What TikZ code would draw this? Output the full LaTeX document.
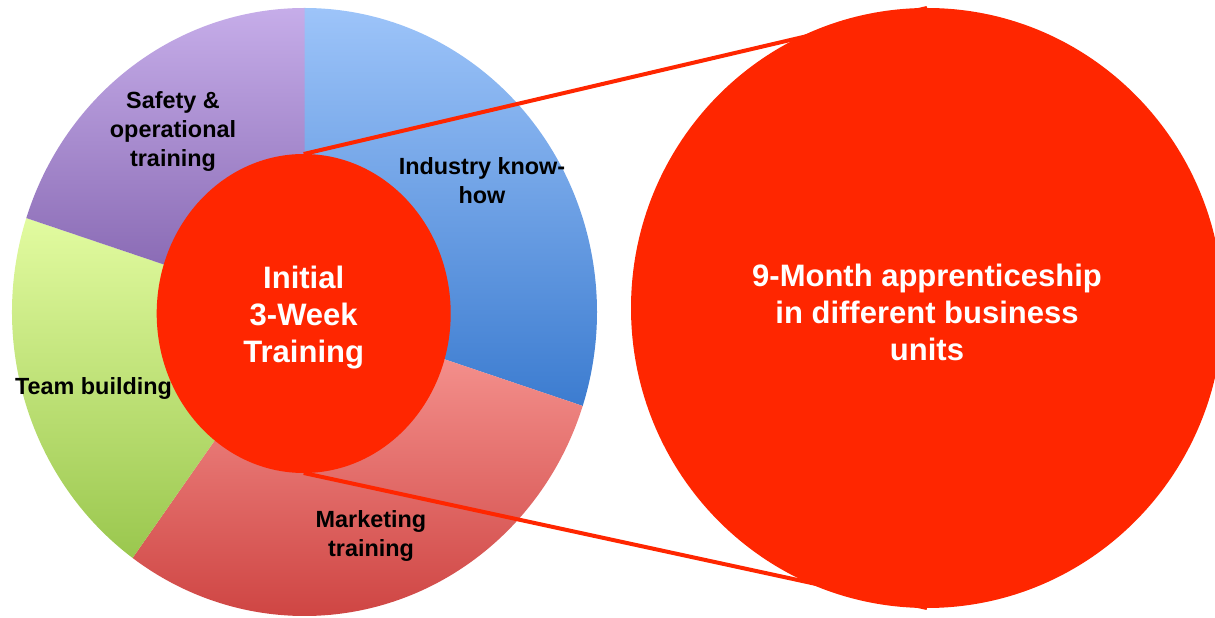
\documentclass[tikz,border=0pt]{standalone}
\usepackage{fontspec}
\setmainfont{Liberation Sans}
\usepackage{tikz}
\usetikzlibrary{shapes.geometric}

\definecolor{initred}{RGB}{255,38,0}
\definecolor{bluetop}{RGB}{157,196,249}
\definecolor{bluebot}{RGB}{60,124,208}
\definecolor{redtop}{RGB}{250,156,152}
\definecolor{redbot}{RGB}{205,66,64}
\definecolor{greentop}{RGB}{226,251,160}
\definecolor{greenbot}{RGB}{154,199,78}
\definecolor{purptop}{RGB}{198,173,233}
\definecolor{purpbot}{RGB}{128,96,172}

\begin{document}
\begin{tikzpicture}[
x=1pt, y=1pt,
mylabel/.style={
  align=center,
  text=black,
  font=\fontsize{23.4}{29}\selectfont\bfseries
  },
mycircle/.style={
  ellipse,
  fill=initred,
  inner sep=0pt,
  outer sep=0pt
  },
circletext/.style={
  align=center,
  text=white,
  font=\fontsize{31}{37}\selectfont\bfseries
  },
myline/.style={draw=initred, line width=4pt}
]
\useasboundingbox (0,0) rectangle (1215,618);
\clip (0,0) rectangle (1215,618);
% pie slices
\foreach \From/\To/\Top/\Bottom in {90/-18/bluetop/bluebot, -18/-126/redtop/redbot, -126/-198/greentop/greenbot, -198/-270/purptop/purpbot}
  \path[top color=\Top, bottom color=\Bottom]
    (304.5,306) -- ++(\From:292.5 and 304)
    arc[start angle=\From, end angle=\To, x radius=292.5, y radius=304] -- cycle;
\node[mylabel] (safety) at (173,486) {Safety \&\\operational\\training};
\node[mylabel] (industry) at (482,437) {Industry know-\\how};
\node[mylabel] (team) at (93.5,229) {Team building};
\node[mylabel] (marketing) at (371,82) {Marketing\\training};
% circles
\node[mycircle, minimum width=294, minimum height=319] (init) at (303.7,304.5) {};
\node[mycircle, minimum width=592, minimum height=600] (appr) at (927,310) {};
\node[circletext] (inittext) at ([yshift=-4]init.center) {Initial\\3-Week\\Training};
\node[circletext] (apprtext) at ([yshift=-4]appr.center) {9-Month apprenticeship\\in different business\\units};
\path[myline]
  (init.north) -- (appr.north)
  (init.south) -- (appr.south);
\end{tikzpicture}
\end{document}
